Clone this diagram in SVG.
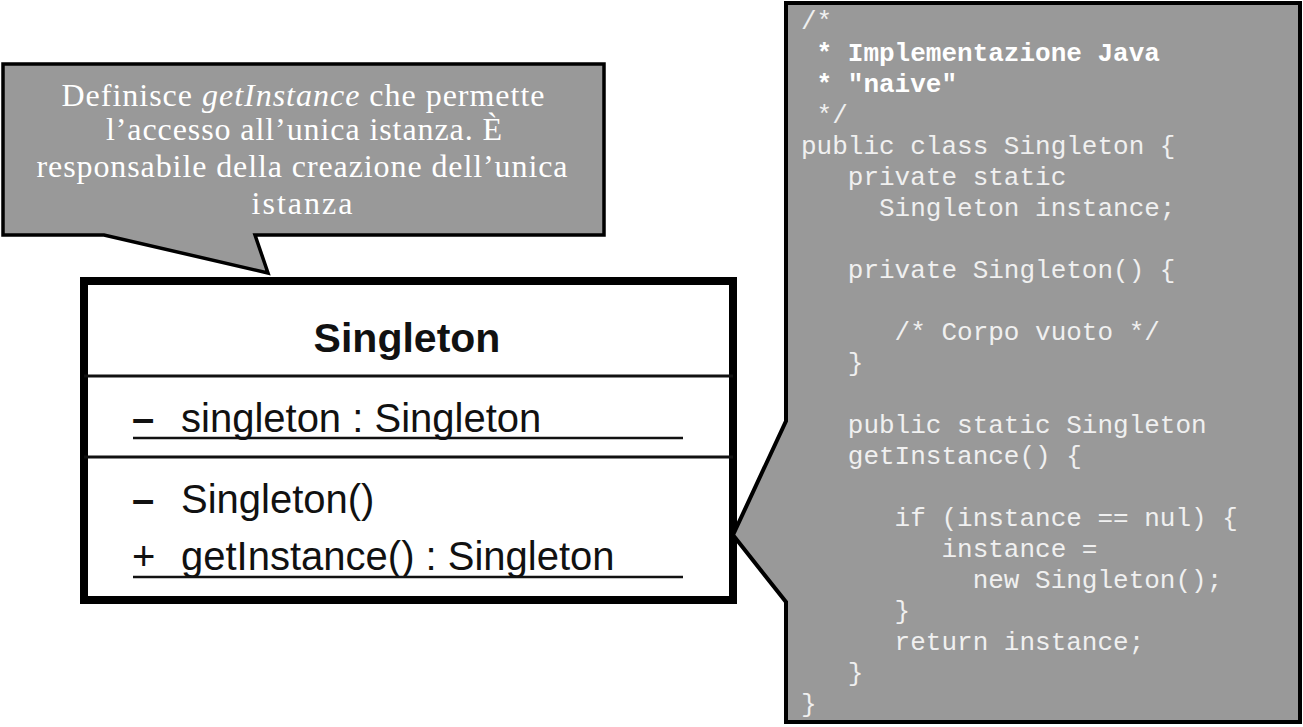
<svg xmlns="http://www.w3.org/2000/svg" width="1303" height="727" viewBox="0 0 1303 727">
<style>
.callout{fill:#999999;stroke:#000;stroke-linejoin:miter}
.note{font-family:"Liberation Serif","Times New Roman",serif;font-size:32px;fill:#ffffff;text-anchor:middle}
.uml{font-family:"Liberation Sans",Arial,sans-serif;font-size:40px;fill:#111}
.title{font-weight:bold;text-anchor:middle;font-size:41px}
.code{font-family:"Liberation Mono","Courier New",monospace;font-size:26px;fill:#f0f0f0;white-space:pre}
.bold{font-weight:bold;fill:#ffffff}
.rule{stroke:#111;stroke-width:3}
.uline{stroke:#111;stroke-width:2.5}
</style>
<rect width="1303" height="727" fill="#ffffff"/>
<g id="connectors"></g>
<g id="note-callout">
<path class="callout" stroke-width="3.5" d="M3,64 H604 V235 H255 L268,273 L104,235 H3 Z"/>
<text class="note" x="303" y="106" textLength="483" lengthAdjust="spacing">Definisce <tspan font-style="italic">getInstance</tspan> che permette</text>
<text class="note" x="304" y="140" textLength="396" lengthAdjust="spacing">l’accesso all’unica istanza. È</text>
<text class="note" x="302" y="177" textLength="531" lengthAdjust="spacing">responsabile della creazione dell’unica</text>
<text class="note" x="302" y="214" textLength="101" lengthAdjust="spacing">istanza</text>
</g>
<g id="class-singleton">
<rect x="84" y="281" width="649" height="319" fill="#ffffff" stroke="#000" stroke-width="8"/>
<line class="rule" x1="84" y1="376" x2="733" y2="376"/>
<line class="rule" x1="84" y1="457" x2="733" y2="457"/>
<text class="uml title" x="407" y="352">Singleton</text>
<text class="uml" x="132" y="432" font-weight="bold">–</text>
<text class="uml" x="181" y="432">singleton : Singleton</text>
<line class="uline" x1="133" y1="438" x2="683" y2="438"/>
<text class="uml" x="132" y="513" font-weight="bold">–</text>
<text class="uml" x="181" y="513">Singleton()</text>
<text class="uml" x="132" y="570">+</text>
<text class="uml" x="181" y="570">getInstance() : Singleton</text>
<line class="uline" x1="133" y1="577" x2="683" y2="577"/>
</g>
<g id="code-callout">
<path class="callout" stroke-width="4" d="M786,3 H1300 V722 H786 V602 L733,535 L786,421 Z"/>
<text class="code" x="801" y="29">/*</text>
<text class="code bold" x="801" y="61"> * Implementazione Java</text>
<text class="code bold" x="801" y="92"> * "naive"</text>
<text class="code" x="801" y="123"> */</text>
<text class="code" x="801" y="154">public class Singleton {</text>
<text class="code" x="801" y="185">   private static</text>
<text class="code" x="801" y="216">     Singleton instance;</text>
<text class="code" x="801" y="278">   private Singleton() {</text>
<text class="code" x="801" y="340">      /* Corpo vuoto */</text>
<text class="code" x="801" y="371">   }</text>
<text class="code" x="801" y="433">   public static Singleton</text>
<text class="code" x="801" y="464">   getInstance() {</text>
<text class="code" x="801" y="526">      if (instance == nul) {</text>
<text class="code" x="801" y="557">         instance =</text>
<text class="code" x="801" y="588">           new Singleton();</text>
<text class="code" x="801" y="619">      }</text>
<text class="code" x="801" y="650">      return instance;</text>
<text class="code" x="801" y="681">   }</text>
<text class="code" x="801" y="712">}</text>
</g>
</svg>
